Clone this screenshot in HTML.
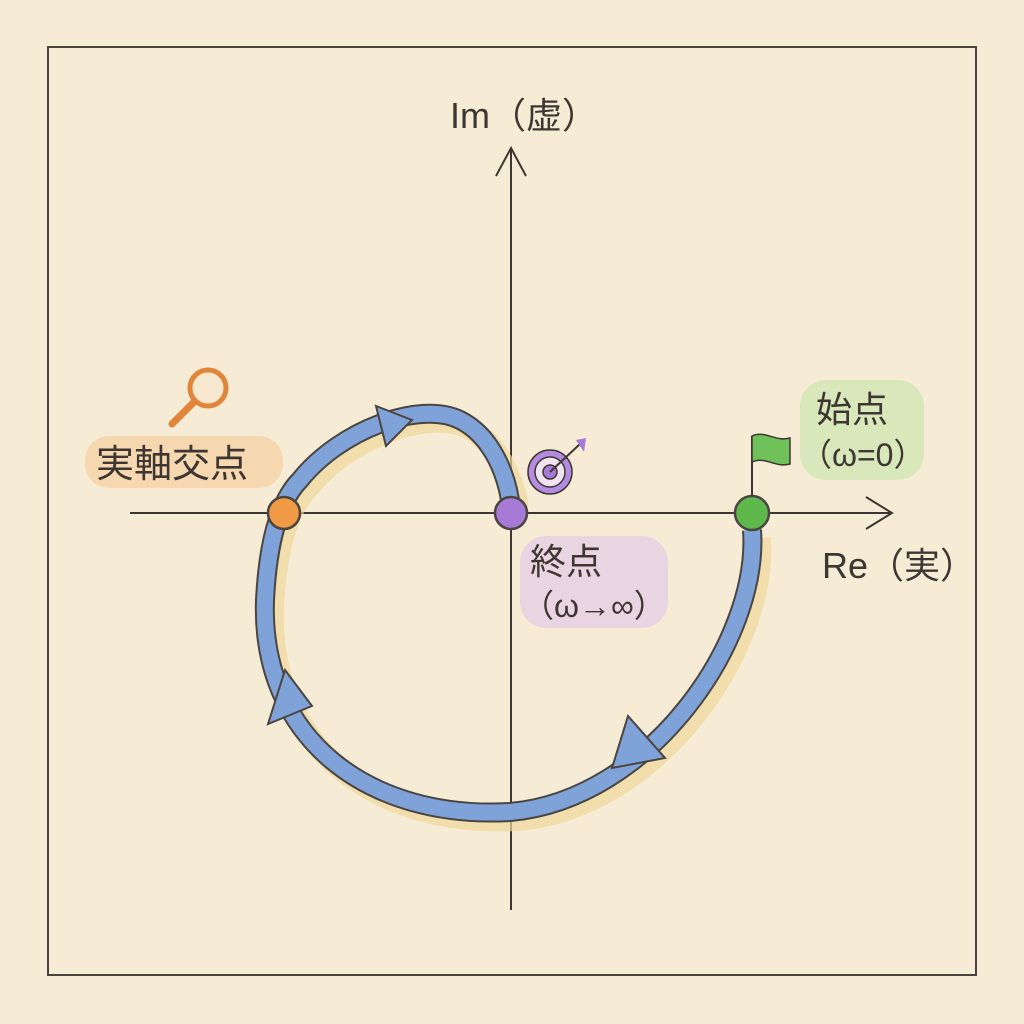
<!DOCTYPE html>
<html><head><meta charset="utf-8"><style>
body{margin:0;background:#f6ecd6;}
svg{display:block}
text{font-family:"Liberation Sans","Noto Sans CJK JP",sans-serif;fill:#3e3632}
</style></head><body>
<svg width="1024" height="1024" viewBox="0 0 1024 1024">
<rect width="1024" height="1024" fill="#f6ecd6"/>
<rect x="48" y="47" width="928" height="928" fill="none" stroke="#4a423c" stroke-width="2"/>
<!-- axes -->
<line x1="130" y1="513" x2="892" y2="513" stroke="#3e3632" stroke-width="2"/>
<polyline points="866,497 892,513 866,529" fill="none" stroke="#3e3632" stroke-width="2"/>
<line x1="511" y1="148" x2="511" y2="910" stroke="#3e3632" stroke-width="2"/>
<polyline points="496,176 511,148 526,176" fill="none" stroke="#3e3632" stroke-width="2"/>
<!-- labels bg -->
<rect x="85" y="436" width="198" height="52" rx="24" fill="#f6d3a6" opacity="0.8"/>
<rect x="520" y="536" width="148" height="92" rx="26" fill="#e6d1e3" opacity="0.85"/>
<rect x="800" y="380" width="124" height="100" rx="26" fill="#d6e8b8" opacity="0.9"/>
<!-- curve shadow -->
<path d="M752,530 C760,640 650,800 510,812 C370,820 260,740 265,600 C268,540 280,500 300,480 C340,430 420,400 460,420 C490,435 505,470 510,500" fill="none" stroke="#f0d99a" stroke-width="22" transform="translate(8,8)" opacity="0.7"/>
<path d="M752,530 C760,640 650,800 510,812 C370,820 260,740 265,600 C268,540 280,500 300,480 C340,430 420,400 460,420 C490,435 505,470 510,500" fill="none" stroke="#4a4540" stroke-width="20"/>
<path d="M752,530 C760,640 650,800 510,812 C370,820 260,740 265,600 C268,540 280,500 300,480 C340,430 420,400 460,420 C490,435 505,470 510,500" fill="none" stroke="#7fa3d8" stroke-width="16"/>
<polygon points="612,768 628,716 665,758" fill="#7fa3d8" stroke="#4a4540" stroke-width="2"/>
<polygon points="285,670 268,724 312,706" fill="#7fa3d8" stroke="#4a4540" stroke-width="2"/>
<polygon points="412,420 376,406 386,446" fill="#7fa3d8" stroke="#4a4540" stroke-width="2"/>
<!-- points -->
<circle cx="284" cy="513" r="16" fill="#f19a45" stroke="#4a4540" stroke-width="2.5"/>
<circle cx="511" cy="513" r="16" fill="#a77ad8" stroke="#4a4540" stroke-width="2.5"/>
<circle cx="752" cy="513" r="17" fill="#5fb84c" stroke="#4a4540" stroke-width="2.5"/>
<!-- flag -->
<line x1="752" y1="496" x2="752" y2="436" stroke="#3e3632" stroke-width="2"/>
<path d="M752,436 C765,430 775,442 790,438 L790,464 C775,468 765,456 752,462 Z" fill="#6fc25a" stroke="#3e3632" stroke-width="1.5"/>
<!-- magnifier -->
<circle cx="208" cy="388" r="18" fill="#f8e8d0" stroke="#e0853a" stroke-width="5"/>
<line x1="194" y1="402" x2="172" y2="424" stroke="#e0853a" stroke-width="7" stroke-linecap="round"/>
<!-- target -->
<circle cx="550" cy="472" r="22" fill="#b48be0" stroke="#3e3632" stroke-width="1.5"/>
<circle cx="550" cy="472" r="15" fill="#f0e4f0" stroke="#3e3632" stroke-width="1.5"/>
<circle cx="550" cy="472" r="7" fill="#a77ad8" stroke="#3e3632" stroke-width="1.5"/>
<line x1="550" y1="472" x2="580" y2="444" stroke="#3e3632" stroke-width="2"/>
<polygon points="576,440 586,438 584,452" fill="#a77ad8"/>
<!-- text -->
<text x="450" y="128" font-size="36">Im（虚）</text>
<text x="822" y="578" font-size="36">Re（実）</text>
<text x="96" y="477" font-size="38">実軸交点</text>
<text x="530" y="574" font-size="36">終点</text>
<text x="522" y="617" font-size="32">（ω→∞）</text>
<text x="816" y="422" font-size="36">始点</text>
<text x="800" y="466" font-size="32">（ω=0）</text>
</svg>
</body></html>
